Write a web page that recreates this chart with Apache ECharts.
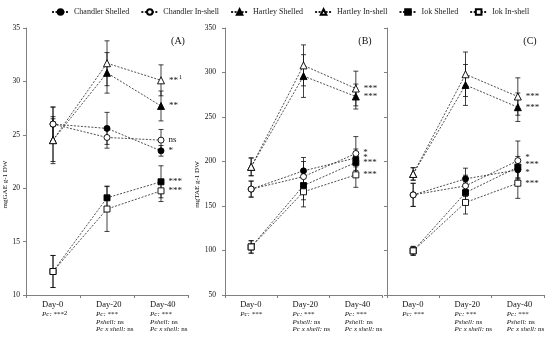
<!DOCTYPE html>
<html><head><meta charset="utf-8">
<script src="https://cdn.jsdelivr.net/npm/echarts@6/dist/echarts.min.js"></script>
<style>html,body{margin:0;padding:0;background:#fff}#c{width:550px;height:341px}</style>
</head><body><div id="c"></div>
<script>
// ---------- data ----------
const categories = ['Day-0', 'Day-20', 'Day-40'];
const seriesNames = ['Chandler Shelled', 'Chandler In-shell', 'Hartley Shelled', 'Hartley In-shell', 'Iok Shelled', 'Iok In-shell'];

// Panel A (mgGAE g-1 DW)
const A_chandlerShelled = [26.0, 25.6, 23.5];
const A_chandlerInshell = [26.0, 24.75, 24.5];
const A_hartleyShelled  = [24.5, 30.8, 27.7];
const A_hartleyInshell  = [24.5, 31.7, 30.1];
const A_iokShelled      = [12.2, 19.1, 20.6];
const A_iokInshell      = [12.2, 18.05, 19.75];
const A_err_chandlerShelled = [1.6, 1.5, 0.5];
const A_err_chandlerInshell = [1.6, 1.0, 1.0];
const A_err_hartleyShelled  = [2.0, 1.9, 1.4];
const A_err_hartleyInshell  = [2.2, 2.1, 1.45];
const A_err_iokShelled      = [1.5, 1.1, 1.5];
const A_err_iokInshell      = [1.5, 2.1, 1.0];
const A_sig = ['*', 'ns', '**', '**{s|1}', '***', '***'];

// Panel B (mgTAE g-1 DW)
const B_chandlerShelled = [169, 189.5, 204];
const B_chandlerInshell = [169, 183, 209];
const B_hartleyShelled  = [194, 296, 273];
const B_hartleyInshell  = [194, 308, 282];
const B_iokShelled      = [104, 173, 199];
const B_iokInshell      = [104, 166, 185];
const B_err_chandlerShelled = [9, 15, 10];
const B_err_chandlerInshell = [9, 17, 19];
const B_err_hartleyShelled  = [10, 24, 14];
const B_err_hartleyInshell  = [10, 23, 19.5];
const B_err_iokShelled      = [7, 16, 12];
const B_err_iokInshell      = [7, 17, 14];
const B_sig = ['*', '*', '***', '***', '***', '***'];

// Panel C
const C_chandlerShelled = [162.5, 180.5, 190.6];
const C_chandlerInshell = [162.5, 172.6, 201];
const C_hartleyShelled  = [186, 286, 261];
const C_hartleyInshell  = [186, 298, 273];
const C_iokShelled      = [99.6, 165, 193.7];
const C_iokInshell      = [99.6, 154, 175.6];
const C_err_chandlerShelled = [13, 12, 10];
const C_err_chandlerInshell = [13, 12, 22];
const C_err_hartleyShelled  = [7, 23, 16];
const C_err_hartleyInshell  = [7, 25, 21];
const C_err_iokShelled      = [5, 12, 12];
const C_err_iokInshell      = [5, 13, 17];
const C_sig = ['*', '*', '***', '***', '***', '***'];

// axis texts
const yTicksA = [10, 15, 20, 25, 30, 35];
const yTicksBC = [50, 100, 150, 200, 250, 300, 350];
const panelTitles = ['(A)', '(B)', '(C)'];
const yNames = ['mgGAE g-1 DW', 'mgTAE g-1 DW', ''];
const day0Note = ['{n| ***}{s|2}', '{n| ***}', '{n| ***}'];
const laterNotes = [['Pc:', '***'], ['Pshell:', 'ns'], ['Pc x shell:', 'ns']];

// ---------- build ----------
const FONT = 'Liberation Serif';
const panels = [
  {means: [A_chandlerShelled, A_chandlerInshell, A_hartleyShelled, A_hartleyInshell, A_iokShelled, A_iokInshell],
   errs: [A_err_chandlerShelled, A_err_chandlerInshell, A_err_hartleyShelled, A_err_hartleyInshell, A_err_iokShelled, A_err_iokInshell],
   sig: A_sig, ticks: yTicksA},
  {means: [B_chandlerShelled, B_chandlerInshell, B_hartleyShelled, B_hartleyInshell, B_iokShelled, B_iokInshell],
   errs: [B_err_chandlerShelled, B_err_chandlerInshell, B_err_hartleyShelled, B_err_hartleyInshell, B_err_iokShelled, B_err_iokInshell],
   sig: B_sig, ticks: yTicksBC},
  {means: [C_chandlerShelled, C_chandlerInshell, C_hartleyShelled, C_hartleyInshell, C_iokShelled, C_iokInshell],
   errs: [C_err_chandlerShelled, C_err_chandlerInshell, C_err_hartleyShelled, C_err_hartleyInshell, C_err_iokShelled, C_err_iokInshell],
   sig: C_sig, ticks: yTicksBC}
];
const symbols = ['circle', 'circle', 'triangle', 'triangle', 'rect', 'rect'];
const filled = [true, false, true, false, true, false];
const symSizes = [6, 6, 7, 7, 6, 6];
const sigOffset = [
  [[0,0],[0,0],[0,0],[0,0],[0,0],[0,0]],
  [[0,0],[0,-1],[0,0],[0,0],[0,0],[0,0]],
  [[0,3],[0,-3],[0,0],[0,0],[0,-2],[0,0]]
];

const grids = [
  {left: 26, top: 28, width: 162, height: 267, outerBoundsMode: 'none', containLabel: false},
  {left: 225, top: 28, width: 157, height: 267, outerBoundsMode: 'none', containLabel: false},
  {left: 387, top: 28, width: 157, height: 267, outerBoundsMode: 'none', containLabel: false}
];

const axisColor = '#808080';
const xAxes = grids.map((g, p) => ({
  type: 'category', gridIndex: p, data: categories,
  axisLine: {lineStyle: {color: axisColor, width: 1}},
  axisTick: {show: true, length: 3, lineStyle: {color: axisColor}},
  axisLabel: {
    interval: 0, margin: 5, align: 'center', width: 22, overflow: 'none',
    formatter: (v, i) => {
      let s = '{d|' + v + '}';
      if (i === 0) s += '\n{i|Pc:}' + day0Note[p];
      else s += laterNotes.map(l => '\n{i|' + l[0] + '}{n| ' + l[1] + '}').join('');
      return s;
    },
    rich: {
      d: {fontFamily: FONT, fontSize: 8.5, color: '#111', align: 'left', lineHeight: 10},
      i: {fontFamily: FONT, fontSize: 7, fontStyle: 'italic', color: '#111', align: 'left', lineHeight: 7.8},
      n: {fontFamily: FONT, fontSize: 7, color: '#111', align: 'left', lineHeight: 7.8},
      s: {fontFamily: FONT, fontSize: 6.5, color: '#111', align: 'left', lineHeight: 7.8, verticalAlign: 'top', padding: [0, 0, 3, 0]}
    }
  },
  splitLine: {show: false}
}));

const yAxes = grids.map((g, p) => {
  const t = panels[p].ticks;
  return {
    type: 'value', gridIndex: p, min: t[0], max: t[t.length - 1], interval: t[1] - t[0],
    name: yNames[p], nameLocation: 'middle', nameGap: p === 0 ? 14 : 21, nameRotate: 90,
    nameTextStyle: {fontFamily: FONT, fontSize: 7, color: '#111', padding: [0, 46, 0, 0]},
    axisLine: {show: true, lineStyle: {color: axisColor, width: 1}},
    axisTick: {show: true, length: 3, lineStyle: {color: axisColor}},
    axisLabel: {show: p < 2, fontFamily: FONT, fontSize: 7.5, color: '#111', margin: p === 0 ? 6 : 9},
    splitLine: {show: false}
  };
});

const series = [];
panels.forEach((pn, p) => {
  // error bars
  pn.means.forEach((m, k) => {
    const e = pn.errs[k];
    series.push({
      type: 'custom', xAxisIndex: p, yAxisIndex: p, z: 1, silent: true,
      data: m.map((v, i) => [i, v - e[i], v + e[i]]),
      encode: {x: 0, y: [1, 2]},
      renderItem: (params, api) => {
        const lo = api.coord([api.value(0), api.value(1)]);
        const hi = api.coord([api.value(0), api.value(2)]);
        const w = 2.5;
        const st = {stroke: '#111', lineWidth: 0.8};
        return {type: 'group', children: [
          {type: 'line', shape: {x1: lo[0], y1: lo[1], x2: hi[0], y2: hi[1]}, style: st},
          {type: 'line', shape: {x1: lo[0] - w, y1: lo[1], x2: lo[0] + w, y2: lo[1]}, style: st},
          {type: 'line', shape: {x1: hi[0] - w, y1: hi[1], x2: hi[0] + w, y2: hi[1]}, style: st}
        ]};
      }
    });
  });
  // lines
  pn.means.forEach((m, k) => {
    series.push({
      type: 'line', name: seriesNames[k], xAxisIndex: p, yAxisIndex: p, z: 3,
      data: m, symbol: symbols[k], symbolSize: symSizes[k],
      lineStyle: {color: '#222', width: 0.8, type: [2, 1.5]},
      itemStyle: {color: filled[k] ? '#000' : '#fff', borderColor: '#000', borderWidth: 0.9},
      label: {
        show: true, position: 'right', distance: 4, offset: sigOffset[p][k],
        formatter: (q) => q.dataIndex === 2 ? pn.sig[k] : '',
        fontFamily: FONT, fontSize: 9, color: '#111',
        rich: {s: {fontFamily: FONT, fontSize: 6.5, color: '#111', verticalAlign: 'top', padding: [0, 0, 6, 1]}}
      },
      emphasis: {disabled: true},
      animation: false
    });
  });
});

const titles = panelTitles.map((t, p) => ({
  text: t, left: [173, 360, 525][p], top: 31, textAlign: 'center',
  textStyle: {fontFamily: FONT, fontSize: 10, fontWeight: 'normal', color: '#111'}
}));

const chart = echarts.init(document.getElementById('c'), null, {renderer: 'canvas'});
chart.setOption({
  animation: false,
  backgroundColor: '#fff',
  title: titles,
  legend: {
    data: seriesNames, top: 3, left: 46, itemGap: 11, itemWidth: 17, itemHeight: 7,
    textStyle: {fontFamily: FONT, fontSize: 8, color: '#222'}
  },
  grid: grids,
  xAxis: xAxes,
  yAxis: yAxes,
  series: series
});
</script></body></html>
